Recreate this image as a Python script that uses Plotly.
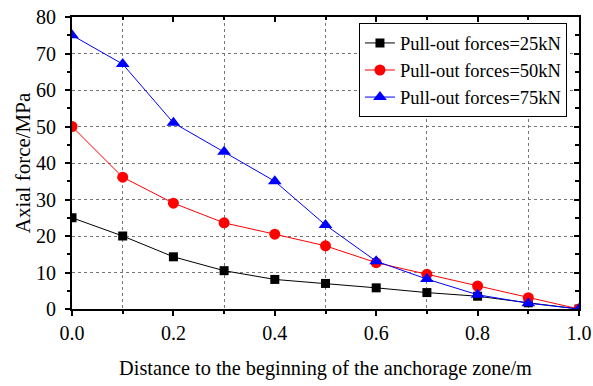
import plotly.graph_objects as go

distance = [0.0, 0.1, 0.2, 0.3, 0.4, 0.5, 0.6, 0.7, 0.8, 0.9, 1.0]
force_25 = [25.0, 20.0, 14.3, 10.5, 8.1, 7.0, 5.8, 4.5, 3.5, 1.7, 0.0]
force_50 = [50.0, 36.1, 29.0, 23.6, 20.5, 17.3, 12.7, 9.5, 6.3, 3.1, 0.0]
force_75 = [75.0, 67.1, 51.0, 43.1, 35.0, 23.0, 13.1, 8.2, 3.9, 1.6, 0.0]
names = ["Pull-out forces=25kN", "Pull-out forces=50kN", "Pull-out forces=75kN"]

FONT = "Liberation Serif"

fig = go.Figure()
fig.add_trace(go.Scatter(x=distance, y=force_25, name=names[0], mode="lines+markers",
                         line=dict(color="black", width=1),
                         marker=dict(symbol="square", size=9, color="black")))
fig.add_trace(go.Scatter(x=distance, y=force_50, name=names[1], mode="lines+markers",
                         line=dict(color="red", width=1),
                         marker=dict(symbol="circle", size=11, color="red")))
fig.add_trace(go.Scatter(x=distance, y=force_75, name=names[2], mode="lines+markers",
                         line=dict(color="blue", width=1),
                         marker=dict(symbol="triangle-up", size=12, color="blue")))

fig.add_trace(go.Scatter(x=[0, 1], y=[0, 80], xaxis="x2", yaxis="y2", mode="markers",
                         marker=dict(opacity=0), showlegend=False, hoverinfo="skip"))

fig.update_layout(
    width=593, height=386,
    margin=dict(l=72, r=14, t=17, b=77),
    paper_bgcolor="white", plot_bgcolor="white",
    font=dict(family=FONT, size=20, color="black"),
    xaxis=dict(range=[0, 1.0], dtick=0.2, tickformat=".1f", automargin=False,
               showline=True, linecolor="black", linewidth=2,
               ticks="outside", ticklen=5, tickwidth=1.5, tickcolor="black",
               showgrid=False, zeroline=False,
               minor=dict(dtick=0.1, ticks="outside", ticklen=3, tickcolor="black",
                          showgrid=True, gridcolor="#777777", griddash="dot", gridwidth=1),
               title=dict(text="Distance to the beginning of the anchorage zone/m",
                          font=dict(family=FONT, size=20.3), standoff=18)),
    yaxis=dict(range=[0, 80], dtick=10, automargin=False,
               showline=True, linecolor="black", linewidth=2,
               ticks="outside", ticklen=5, tickwidth=1.5, tickcolor="black",
               showgrid=True, gridcolor="#777777", griddash="dot", gridwidth=1,
               zeroline=False, ticksuffix=" ",
               minor=dict(dtick=5, ticks="outside", ticklen=3, tickcolor="black", showgrid=False),
               title=dict(text="Axial force/MPa", font=dict(family=FONT, size=21), standoff=0)),
    xaxis2=dict(overlaying="x", side="top", range=[0, 1.0], dtick=0.2, automargin=False,
                showline=True, linecolor="black", linewidth=2,
                ticks="inside", ticklen=5, tickwidth=1.5, tickcolor="black",
                showticklabels=False, showgrid=False, zeroline=False,
                minor=dict(dtick=0.1, ticks="inside", ticklen=3, tickcolor="black")),
    yaxis2=dict(overlaying="y", side="right", range=[0, 80], dtick=10, automargin=False,
                showline=True, linecolor="black", linewidth=2,
                ticks="inside", ticklen=5, tickwidth=1.5, tickcolor="black",
                showticklabels=False, showgrid=False, zeroline=False,
                minor=dict(dtick=5, ticks="inside", ticklen=4, tickcolor="black")),
    legend=dict(x=0.566, y=0.978, xanchor="left", yanchor="top",
                bgcolor="white", bordercolor="black", borderwidth=1,
                font=dict(family=FONT, size=18.5), itemwidth=30),
    showlegend=True,
)

fig.write_html("out.html")
